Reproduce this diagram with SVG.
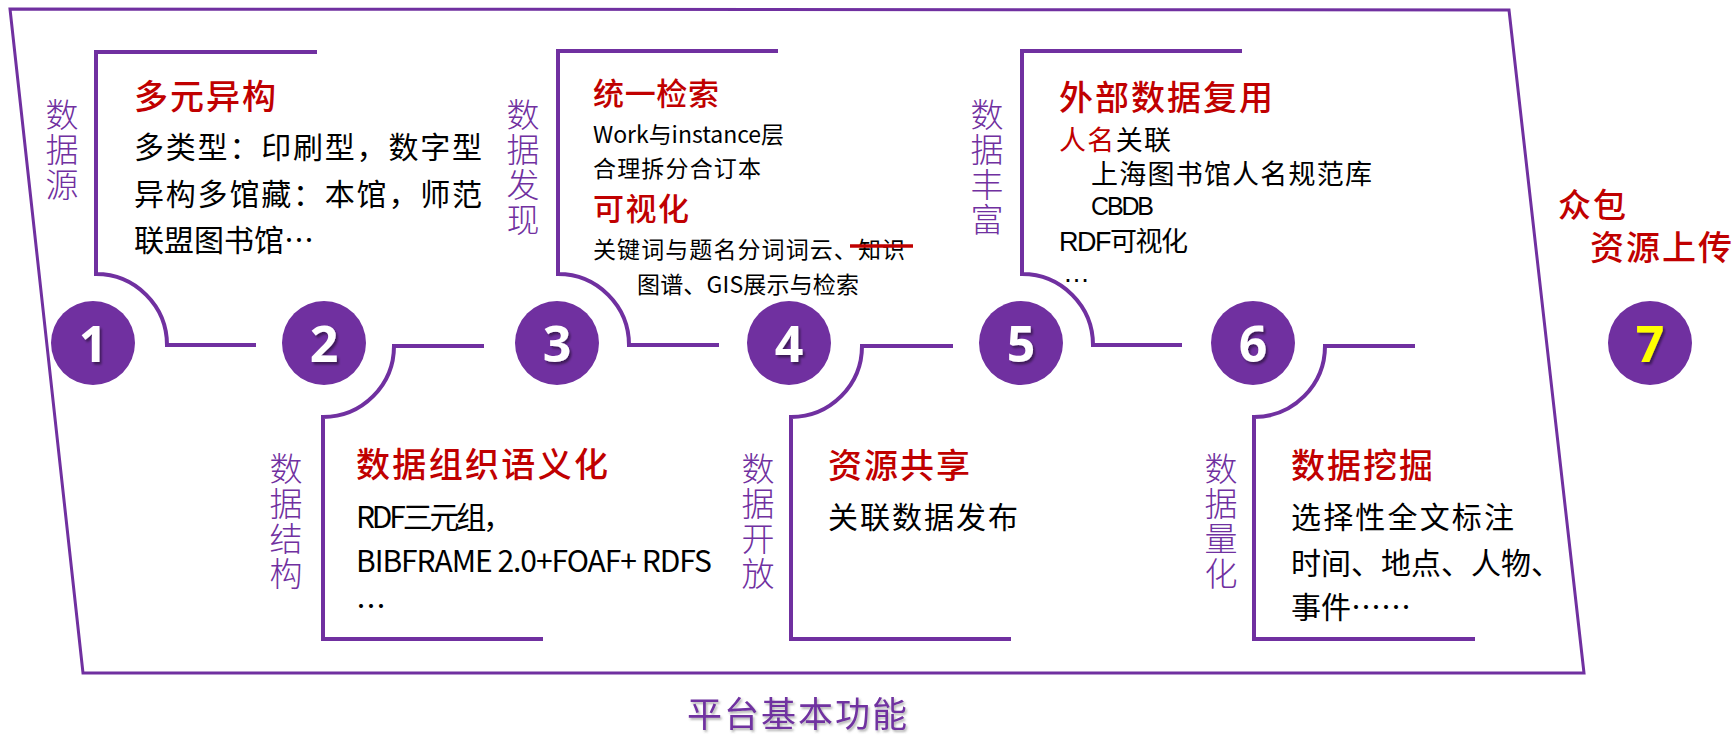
<svg xmlns="http://www.w3.org/2000/svg" width="1735" height="735" viewBox="0 0 1735 735">
<defs>
<filter id="sh" x="-20%" y="-20%" width="150%" height="150%">
<feDropShadow dx="2" dy="2.5" stdDeviation="1.2" flood-color="#000" flood-opacity="0.45"/>
</filter>
<filter id="sh2" x="-5%" y="-20%" width="115%" height="150%">
<feDropShadow dx="1.5" dy="2" stdDeviation="1.2" flood-color="#555" flood-opacity="0.45"/>
</filter>
<style>
.frame{fill:none;stroke:#7030A0;stroke-width:4}
.outer{fill:none;stroke:#7030A0;stroke-width:3;stroke-linejoin:miter}
.dot{fill:#7030A0}
.num{font-family:"Open Sans","Liberation Sans",sans-serif;font-weight:700;font-size:50px;fill:#fff;text-anchor:middle}
.cj{font-family:"Noto Sans CJK SC","Noto Sans",sans-serif}
.vl{font-family:"Noto Sans CJK SC",sans-serif;font-size:33px;fill:#7030A0;font-weight:300;writing-mode:vertical-rl;letter-spacing:2px}
.ti{font-family:"Noto Sans CJK SC",sans-serif;fill:#C00000;font-weight:500}
.bd{font-family:"Noto Sans CJK SC",sans-serif;fill:#000}
.bt{font-family:"Liberation Sans","Noto Sans CJK SC",sans-serif;fill:#000}
</style>
</defs>
<rect width="1735" height="735" fill="#fff"/>

<polygon id="outer-frame" class="outer" points="10,9 1509,10 1584,673 83,673"/>

<g id="connectors">
<path class="frame" d="M317,52 H96 V274 A71,71 0 0 1 167,345 H256"/>
<path class="frame" d="M484,346 H394 A71,71 0 0 1 323,417 V639 H543"/>
<path class="frame" d="M778,51 H558 V274 A71,71 0 0 1 629,345 H719"/>
<path class="frame" d="M953,346 H862 A71,71 0 0 1 791,417 V639 H1011"/>
<path class="frame" d="M1242,51 H1022 V274 A71,71 0 0 1 1093,345 H1182"/>
<path class="frame" d="M1415,346 H1325 A71,71 0 0 1 1254,417 V639 H1475"/>
</g>

<g id="node1">
<circle class="dot" cx="93" cy="343" r="42"/>
<text class="num" x="93" y="362" filter="url(#sh)">1</text>
<text class="vl" x="62" y="98">数据源</text>
<text class="ti" x="134" y="109" font-size="34" textLength="142">多元异构</text>
<text class="bd" x="134" y="158" font-size="30" textLength="348">多类型：印刷型，数字型</text>
<text class="bd" x="134" y="205" font-size="30" textLength="348">异构多馆藏：本馆，师范</text>
<text class="bd" x="134" y="251" font-size="30">联盟图书馆…</text>
</g>

<g id="node2">
<circle class="dot" cx="324" cy="343" r="42"/>
<text class="num" x="324" y="362" filter="url(#sh)">2</text>
<text class="vl" x="286" y="452">数据结构</text>
<text class="ti" x="356" y="477" font-size="34" textLength="252">数据组织语义化</text>
<text class="bd" x="356" y="528" font-size="30" textLength="157">RDF三元组，</text>
<text class="bd" x="356" y="572" font-size="30" textLength="356">BIBFRAME 2.0+FOAF+ RDFS</text>
<text class="bd" x="356" y="617" font-size="30">…</text>
</g>

<g id="node3">
<circle class="dot" cx="557" cy="343" r="42"/>
<text class="num" x="557" y="362" filter="url(#sh)">3</text>
<text class="vl" x="523" y="98">数据发现</text>
<text class="ti" x="593" y="105" font-size="31" textLength="126">统一检索</text>
<text class="bd" x="593" y="143" font-size="23" textLength="191">Work与instance层</text>
<text class="bd" x="593" y="177" font-size="23" textLength="168">合理拆分合订本</text>
<text class="ti" x="593" y="220" font-size="31" textLength="96">可视化</text>
<text class="bd" x="593" y="258" font-size="23" textLength="312">关键词与题名分词词云、知识</text>
<line x1="850" y1="246" x2="913" y2="246" stroke="#C00000" stroke-width="3.5"/>
<text class="bd" x="637" y="293" font-size="23" textLength="222">图谱、GIS展示与检索</text>
</g>

<g id="node4">
<circle class="dot" cx="789" cy="343" r="42"/>
<text class="num" x="789" y="362" filter="url(#sh)">4</text>
<text class="vl" x="758" y="452">数据开放</text>
<text class="ti" x="828" y="478" font-size="34" textLength="142">资源共享</text>
<text class="bd" x="828" y="528" font-size="30" textLength="190">关联数据发布</text>
</g>

<g id="node5">
<circle class="dot" cx="1021" cy="343" r="42"/>
<text class="num" x="1021" y="362" filter="url(#sh)">5</text>
<text class="vl" x="987" y="98">数据丰富</text>
<text class="ti" x="1059" y="110" font-size="34" textLength="214">外部数据复用</text>
<text class="bt" x="1059" y="150" font-size="27" textLength="112"><tspan fill="#C00000">人名</tspan>关联</text>
<text class="bt" x="1091" y="184" font-size="27" textLength="281">上海图书馆人名规范库</text>
<text class="bt" x="1091" y="215" font-size="25" textLength="63">CBDB</text>
<text class="bt" x="1059" y="251" font-size="27" textLength="129">RDF可视化</text>
<text class="bt" x="1063" y="282" font-size="27">…</text>
</g>

<g id="node6">
<circle class="dot" cx="1253" cy="343" r="42"/>
<text class="num" x="1253" y="362" filter="url(#sh)">6</text>
<text class="vl" x="1221" y="452">数据量化</text>
<text class="ti" x="1291" y="478" font-size="34" textLength="142">数据挖掘</text>
<text class="bd" x="1291" y="528" font-size="30" textLength="223">选择性全文标注</text>
<text class="bd" x="1291" y="574" font-size="30" textLength="270">时间、地点、人物、</text>
<text class="bd" x="1291" y="618" font-size="30">事件……</text>
</g>

<g id="node7">
<circle class="dot" cx="1650" cy="343" r="42"/>
<text class="num" x="1650" y="362" filter="url(#sh)" style="fill:#FFFF00">7</text>
<text class="ti" x="1558" y="217" font-size="33" font-weight="400" textLength="68">众包</text>
<text class="ti" x="1590" y="260" font-size="34" font-weight="400" textLength="142">资源上传</text>
</g>

<g id="footer">
<text class="cj" x="687" y="727" font-size="35" fill="#7030A0" filter="url(#sh2)" textLength="220">平台基本功能</text>
</g>
</svg>
